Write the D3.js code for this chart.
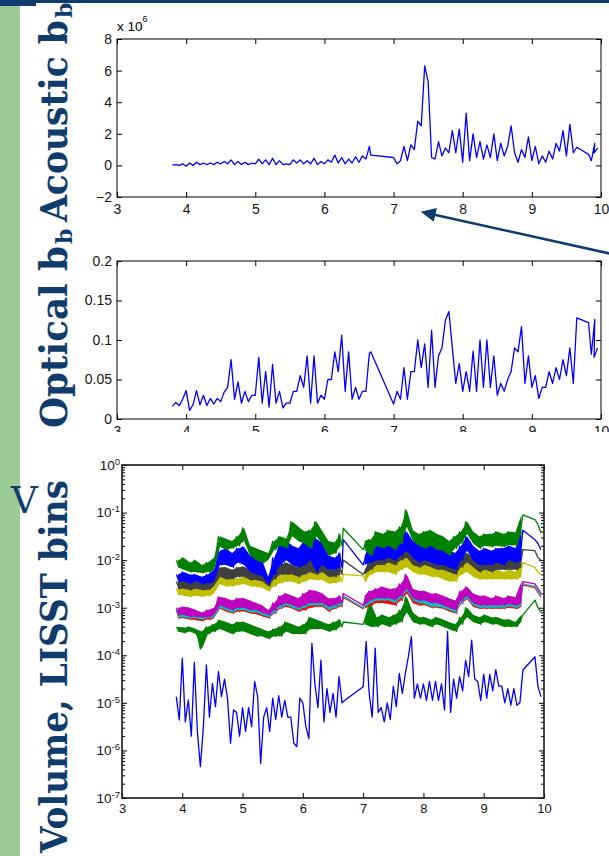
<!DOCTYPE html>
<html>
<head>
<meta charset="utf-8">
<script src="https://cdnjs.cloudflare.com/ajax/libs/d3/7.8.5/d3.min.js"></script>
<style>
body { margin: 0; background: #fff; }
svg { display: block; }
.axis text { font-family: "Liberation Sans", Arial, sans-serif; fill: #151515; }
</style>
</head>
<body>
<div id="viz"></div>
<script>
// ---- data ----
// each series is stored as two readings per x step (a = first, b = second),
// that keeps the noisy look of the traces. a == b means a single point.

var xTicks = [3, 4, 5, 6, 7, 8, 9, 10];

var xsTop = [3.8, 3.9, 4.0, 4.1, 4.2, 4.3, 4.4, 4.5, 4.6, 4.7,
  4.8, 4.9, 5.0, 5.1, 5.2, 5.3, 5.4, 5.5, 5.6, 5.7,
  5.8, 5.9, 6.0, 6.1, 6.2, 6.3, 6.4, 6.5, 6.6, 6.67,
  7.0, 7.1, 7.2, 7.3, 7.4, 7.5, 7.6, 7.7, 7.8, 7.9,
  8.0, 8.1, 8.2, 8.3, 8.4, 8.5, 8.6, 8.7, 8.8, 8.9,
  9.0, 9.1, 9.2, 9.3, 9.4, 9.5, 9.6, 9.82, 9.86, 9.9];

// acoustic bb, in units of 10^6
var acousticTicks = [-2, 0, 2, 4, 6, 8];
var acousticA = [0.02, 0.0, -0.05, 0.0, 0.05, 0.05, 0.05, 0.1, 0.1, 0.05,
  0.05, 0.05, 0.1, 0.1, 0.05, 0.05, 0.05, 0.05, 0.15, 0.1,
  0.1, 0.05, 0.1, 0.2, 0.15, 0.1, 0.15, 0.2, 0.4, 0.65,
  0.5, 0.3, 0.3, 1.0, 2.5, 5.3, 0.4, 0.6, 0.8, 0.8,
  0.2, 0.3, 0.5, 0.4, 0.5, 0.3, 0.6, 2.5, 0.2, 0.5,
  0.3, 0.1, 0.2, 0.4, 0.9, 0.6, 0.8, 0.7, 0.3, 0.8];
var acousticB = [0.05, 0.1, 0.15, 0.2, 0.15, 0.15, 0.2, 0.25, 0.35, 0.25,
  0.2, 0.15, 0.4, 0.35, 0.45, 0.3, 0.1, 0.35, 0.35, 0.3,
  0.45, 0.25, 0.35, 0.65, 0.5, 0.4, 0.55, 0.6, 1.2, 0.65,
  0.1, 1.2, 1.3, 2.8, 6.3, 0.5, 1.5, 1.1, 2.2, 2.3,
  3.3, 2.0, 1.5, 1.3, 2.0, 1.4, 1.2, 0.8, 1.0, 1.8,
  1.2, 0.6, 0.9, 1.4, 2.2, 2.6, 1.15, 0.7, 1.4, 1.1];

// optical bb
var opticalTicks = [0, 0.05, 0.1, 0.15, 0.2];
var opticalTickLabels = ["0", "0.05", "0.1", "0.15", "0.2"];
var opticalA = [0.016, 0.017, 0.036, 0.018, 0.018, 0.017, 0.019, 0.022, 0.04, 0.025,
  0.02, 0.022, 0.03, 0.02, 0.015, 0.02, 0.014, 0.02, 0.035, 0.04,
  0.02, 0.02, 0.025, 0.05, 0.06, 0.035, 0.025, 0.025, 0.035, 0.085,
  0.019, 0.025, 0.025, 0.06, 0.065, 0.04, 0.04, 0.09, 0.136, 0.045,
  0.035, 0.035, 0.035, 0.04, 0.04, 0.03, 0.035, 0.06, 0.085, 0.045,
  0.04, 0.026, 0.04, 0.045, 0.05, 0.055, 0.045, 0.122, 0.082, 0.078];
var opticalB = [0.021, 0.025, 0.011, 0.036, 0.03, 0.026, 0.026, 0.034, 0.075, 0.047,
  0.035, 0.03, 0.078, 0.06, 0.069, 0.035, 0.02, 0.035, 0.055, 0.08,
  0.08, 0.03, 0.05, 0.085, 0.106, 0.085, 0.04, 0.035, 0.083, 0.085,
  0.035, 0.065, 0.06, 0.1, 0.095, 0.112, 0.08, 0.125, 0.09, 0.07,
  0.06, 0.086, 0.1, 0.1, 0.08, 0.045, 0.05, 0.09, 0.117, 0.08,
  0.055, 0.04, 0.06, 0.065, 0.075, 0.09, 0.128, 0.122, 0.126, 0.09];

// LISST volume bins, values are log10 of the volume
var logTicks = [-7, -6, -5, -4, -3, -2, -1, 0];
var xsLisst = [3.9, 4.0, 4.1, 4.2, 4.3, 4.4, 4.5, 4.6, 4.7, 4.8,
  4.9, 5.0, 5.1, 5.2, 5.3, 5.4, 5.5, 5.6, 5.7, 5.8,
  5.9, 6.0, 6.1, 6.2, 6.3, 6.4, 6.5, 6.6, 6.67, 7.0,
  7.1, 7.2, 7.3, 7.4, 7.5, 7.6, 7.7, 7.8, 7.9, 8.0,
  8.1, 8.2, 8.3, 8.4, 8.5, 8.6, 8.7, 8.8, 8.9, 9.0,
  9.1, 9.2, 9.3, 9.4, 9.5, 9.6, 9.85, 9.9];

var lowBlueA = [-4.87, -4.06, -4.94, -4.15, -6.34, -4.2, -4.59, -4.34, -4.5, -5.85,
  -5.2, -5.1, -5.1, -4.55, -6.27, -5.1, -4.9, -4.85, -4.95, -5.3,
  -5.92, -5.0, -5.75, -4.6, -4.1, -4.7, -4.8, -4.45, -4.97, -4.66,
  -4.8, -3.85, -5.1, -5.0, -4.65, -4.38, -4.38, -3.61, -4.6, -4.6,
  -4.55, -4.55, -4.6, -3.5, -4.5, -4.45, -4.1, -3.68, -4.55, -4.4,
  -4.4, -4.3, -4.65, -4.7, -4.7, -5.0, -4.03, -4.66];
var lowBlueB = [-5.36, -5.4, -5.7, -5.6, -5.5, -5.3, -5.08, -4.87, -4.9, -5.15,
  -5.7, -5.6, -5.5, -4.87, -5.3, -5.6, -5.35, -5.3, -5.3, -5.85,
  -4.9, -5.5, -3.75, -5.1, -5.4, -5.2, -5.3, -5.0, -4.97, -3.71,
  -5.3, -5.2, -5.4, -5.35, -5.08, -4.8, -4.03, -4.9, -4.9, -4.95,
  -4.95, -4.95, -5.15, -5.2, -4.9, -4.75, -4.45, -4.5, -4.95, -4.9,
  -4.75, -4.65, -5.0, -5.05, -5.05, -4.31, -4.03, -4.87];

var lowGreenA = [-3.4, -3.42, -3.4, -3.45, -3.87, -3.4, -3.35, -3.26, -3.3, -3.35,
  -3.3, -3.3, -3.35, -3.4, -3.45, -3.5, -3.45, -3.4, -3.3, -3.35,
  -3.4, -3.35, -3.2, -3.25, -3.3, -3.35, -3.3, -3.25, -3.3, -3.35,
  -2.9, -3.2, -3.15, -3.2, -3.15, -3.05, -2.77, -3.1, -3.2, -3.2,
  -3.25, -3.2, -3.25, -3.3, -3.35, -3.2, -3.0, -3.15, -3.2, -3.15,
  -3.2, -3.2, -3.25, -3.25, -3.3, -3.3, -2.84, -3.0];
var lowGreenB = [-3.5, -3.53, -3.5, -3.55, -3.5, -3.55, -3.5, -3.45, -3.5, -3.55,
  -3.5, -3.5, -3.55, -3.6, -3.6, -3.65, -3.6, -3.6, -3.5, -3.55,
  -3.55, -3.55, -3.45, -3.45, -3.45, -3.5, -3.47, -3.4, -3.3, -3.2,
  -3.4, -3.4, -3.35, -3.4, -3.35, -3.3, -3.1, -3.3, -3.35, -3.35,
  -3.4, -3.35, -3.4, -3.45, -3.5, -3.35, -3.2, -3.3, -3.35, -3.3,
  -3.35, -3.35, -3.4, -3.4, -3.4, -3.15, -2.84, -3.1];

var redA = [-3.05, -3.05, -3.08, -3.1, -3.15, -3.1, -3.22, -2.85, -2.88, -2.92,
  -2.88, -2.88, -2.92, -2.98, -3.02, -3.1, -2.98, -2.82, -2.78, -2.82,
  -2.88, -2.78, -2.72, -2.75, -2.78, -2.88, -2.88, -2.82, -2.78, -3.02,
  -2.72, -2.68, -2.66, -2.68, -2.7, -2.6, -2.38, -2.68, -2.72, -2.75,
  -2.8, -2.8, -2.85, -2.88, -2.92, -2.72, -2.62, -2.78, -2.82, -2.82,
  -2.88, -2.82, -2.88, -2.82, -2.85, -2.98, -2.58, -2.68];
var redB = [-3.22, -3.22, -3.25, -3.26, -3.28, -3.25, -3.08, -3.02, -3.08, -3.12,
  -3.08, -3.08, -3.12, -3.14, -3.18, -3.22, -3.12, -3.02, -2.98, -3.02,
  -3.08, -3.05, -3.0, -2.98, -2.98, -3.08, -3.02, -2.98, -2.78, -2.82,
  -2.95, -2.9, -2.9, -2.92, -2.95, -2.85, -2.7, -2.9, -2.95, -2.95,
  -3.0, -3.0, -3.02, -3.08, -3.12, -2.92, -2.82, -2.98, -3.02, -3.02,
  -3.02, -3.02, -3.02, -3.0, -3.02, -2.52, -2.58, -2.78];

var cyanA = [-3.05, -3.02, -3.05, -3.08, -3.12, -3.08, -3.2, -2.82, -2.85, -2.9,
  -2.85, -2.85, -2.9, -2.95, -3.0, -3.08, -2.95, -2.8, -2.75, -2.8,
  -2.85, -2.75, -2.7, -2.72, -2.75, -2.85, -2.85, -2.8, -2.75, -3.0,
  -2.7, -2.65, -2.62, -2.65, -2.65, -2.55, -2.35, -2.65, -2.7, -2.72,
  -2.78, -2.78, -2.82, -2.85, -2.9, -2.7, -2.6, -2.75, -2.8, -2.8,
  -2.85, -2.8, -2.85, -2.8, -2.83, -2.95, -2.55, -2.65];
var cyanB = [-3.2, -3.2, -3.22, -3.22, -3.25, -3.22, -3.05, -3.0, -3.05, -3.1,
  -3.05, -3.05, -3.1, -3.1, -3.15, -3.2, -3.1, -3.0, -2.95, -3.0,
  -3.05, -3.0, -2.95, -2.95, -2.95, -3.05, -3.0, -2.95, -2.75, -2.8,
  -2.9, -2.85, -2.85, -2.85, -2.9, -2.8, -2.65, -2.85, -2.9, -2.92,
  -2.98, -2.98, -3.0, -3.05, -3.1, -2.9, -2.8, -2.95, -3.0, -3.0,
  -3.0, -3.0, -3.0, -2.97, -3.0, -2.5, -2.55, -2.75];

var magentaA = [-3.0, -2.98, -3.0, -3.05, -3.1, -3.05, -3.15, -2.77, -2.8, -2.85,
  -2.8, -2.8, -2.85, -2.9, -2.95, -3.05, -2.9, -2.75, -2.7, -2.75,
  -2.8, -2.7, -2.63, -2.65, -2.7, -2.8, -2.8, -2.75, -2.7, -2.95,
  -2.65, -2.6, -2.56, -2.6, -2.6, -2.5, -2.3, -2.6, -2.65, -2.65,
  -2.7, -2.7, -2.75, -2.8, -2.85, -2.65, -2.56, -2.7, -2.75, -2.75,
  -2.8, -2.75, -2.8, -2.75, -2.78, -2.9, -2.5, -2.6];
var magentaB = [-3.15, -3.15, -3.19, -3.19, -3.2, -3.2, -3.0, -2.95, -3.0, -3.05,
  -3.0, -3.0, -3.05, -3.05, -3.1, -3.15, -3.05, -2.95, -2.9, -2.95,
  -3.0, -2.95, -2.9, -2.9, -2.9, -2.98, -2.95, -2.9, -2.7, -2.75,
  -2.84, -2.8, -2.8, -2.8, -2.84, -2.75, -2.6, -2.8, -2.85, -2.85,
  -2.9, -2.9, -2.95, -3.0, -3.05, -2.85, -2.75, -2.9, -2.95, -2.95,
  -2.95, -2.95, -2.95, -2.92, -2.95, -2.45, -2.5, -2.7];

var oliveA = [-2.6, -2.56, -2.6, -2.6, -2.62, -2.6, -2.7, -2.35, -2.38, -2.4,
  -2.38, -2.35, -2.4, -2.42, -2.45, -2.55, -2.4, -2.3, -2.28, -2.3,
  -2.32, -2.25, -2.2, -2.22, -2.25, -2.35, -2.35, -2.3, -2.3, -2.33,
  -2.1, -2.05, -2.0, -2.05, -2.05, -2.0, -1.9, -2.05, -2.1, -2.1,
  -2.15, -2.15, -2.2, -2.2, -2.25, -2.1, -2.05, -2.15, -2.2, -2.2,
  -2.25, -2.2, -2.25, -2.2, -2.25, -2.35, -2.15, -2.25];
var oliveB = [-2.72, -2.75, -2.77, -2.75, -2.77, -2.75, -2.55, -2.5, -2.55, -2.55,
  -2.52, -2.5, -2.55, -2.56, -2.58, -2.65, -2.55, -2.48, -2.45, -2.45,
  -2.5, -2.45, -2.4, -2.42, -2.42, -2.49, -2.48, -2.45, -2.3, -2.45,
  -2.3, -2.25, -2.25, -2.25, -2.3, -2.2, -2.15, -2.25, -2.3, -2.3,
  -2.35, -2.35, -2.4, -2.45, -2.45, -2.3, -2.25, -2.35, -2.4, -2.4,
  -2.4, -2.4, -2.4, -2.4, -2.4, -2.05, -2.15, -2.3];

var grayA = [-2.45, -2.42, -2.45, -2.45, -2.5, -2.45, -2.55, -2.15, -2.15, -2.2,
  -2.15, -2.14, -2.2, -2.25, -2.3, -2.42, -2.25, -2.1, -2.05, -2.1,
  -2.15, -2.05, -2.0, -2.0, -2.05, -2.2, -2.2, -2.1, -2.0, -2.3,
  -2.0, -1.9, -1.85, -1.85, -1.9, -1.8, -1.7, -1.85, -1.9, -1.9,
  -1.95, -1.95, -2.0, -2.05, -2.1, -1.95, -1.85, -1.95, -2.05, -2.0,
  -2.05, -2.0, -2.05, -2.0, -2.0, -2.15, -1.8, -1.95];
var grayB = [-2.6, -2.6, -2.63, -2.6, -2.63, -2.62, -2.4, -2.35, -2.4, -2.4,
  -2.35, -2.35, -2.42, -2.42, -2.45, -2.55, -2.4, -2.3, -2.3, -2.3,
  -2.35, -2.3, -2.25, -2.3, -2.25, -2.35, -2.35, -2.3, -2.0, -2.2,
  -2.2, -2.1, -2.1, -2.05, -2.1, -2.0, -1.95, -2.1, -2.15, -2.1,
  -2.15, -2.2, -2.2, -2.25, -2.3, -2.15, -2.05, -2.15, -2.25, -2.2,
  -2.25, -2.2, -2.2, -2.2, -2.2, -1.78, -1.8, -2.0];

var blueA = [-2.3, -2.25, -2.3, -2.3, -2.35, -2.3, -2.45, -1.8, -1.75, -1.85,
  -1.75, -1.72, -1.9, -1.95, -2.0, -2.35, -1.95, -1.65, -1.58, -1.7,
  -1.75, -1.6, -1.5, -1.55, -1.65, -1.9, -1.95, -1.85, -1.57, -2.1,
  -1.7, -1.65, -1.6, -1.6, -1.65, -1.5, -1.4, -1.6, -1.65, -1.6,
  -1.65, -1.7, -1.75, -1.8, -1.85, -1.7, -1.5, -1.7, -1.8, -1.75,
  -1.8, -1.75, -1.75, -1.7, -1.75, -2.0, -1.57, -1.65];
var blueB = [-2.45, -2.45, -2.49, -2.45, -2.5, -2.48, -2.2, -2.1, -2.1, -2.15,
  -2.05, -2.1, -2.25, -2.3, -2.33, -2.5, -2.3, -2.1, -2.0, -2.1,
  -2.15, -2.1, -2.0, -2.25, -2.1, -2.2, -2.2, -2.15, -1.57, -1.9,
  -2.05, -2.0, -2.0, -1.95, -2.0, -1.9, -1.8, -1.95, -2.05, -2.0,
  -2.05, -2.1, -2.1, -2.15, -2.2, -2.0, -1.8, -2.0, -2.1, -2.1,
  -2.1, -2.05, -2.1, -2.0, -2.05, -1.37, -1.57, -1.78];

var topGreenA = [-2.0, -1.95, -2.05, -2.0, -2.1, -2.05, -2.2, -1.5, -1.55, -1.6,
  -1.5, -1.32, -1.7, -1.75, -1.8, -2.0, -1.6, -1.5, -1.55, -1.19,
  -1.3, -1.4, -1.37, -1.19, -1.4, -1.6, -1.63, -1.45, -1.33, -1.78,
  -1.57, -1.4, -1.45, -1.37, -1.4, -1.3, -0.94, -1.37, -1.45, -1.4,
  -1.37, -1.45, -1.5, -1.6, -1.5, -1.4, -1.19, -1.4, -1.5, -1.45,
  -1.45, -1.4, -1.45, -1.4, -1.42, -1.45, -1.15, -1.25];
var topGreenB = [-2.15, -2.2, -2.25, -2.25, -2.27, -2.25, -1.95, -1.72, -1.78, -1.75,
  -1.7, -1.6, -1.9, -2.0, -2.05, -1.85, -1.78, -1.7, -1.75, -1.5,
  -1.6, -1.65, -1.75, -1.5, -1.68, -1.9, -1.86, -1.7, -1.33, -1.6,
  -1.9, -1.7, -1.75, -1.7, -1.78, -1.65, -1.3, -1.6, -1.7, -1.75,
  -1.7, -1.78, -1.8, -1.9, -1.75, -1.65, -1.45, -1.65, -1.75, -1.7,
  -1.72, -1.7, -1.72, -1.68, -1.7, -1.05, -1.15, -1.43];

// plotting order as in the original (matlab colour order)
var lisstSeries = [
  {a: lowBlueA, b: lowBlueB, color: "#0000ff", fill: 0},
  {a: lowGreenA, b: lowGreenB, color: "#008000", fill: 1},
  {a: redA, b: redB, color: "#ff0000", fill: 1},
  {a: cyanA, b: cyanB, color: "#00bfbf", fill: 1},
  {a: magentaA, b: magentaB, color: "#bf00bf", fill: 1},
  {a: oliveA, b: oliveB, color: "#bfbf00", fill: 1},
  {a: grayA, b: grayB, color: "#404040", fill: 1},
  {a: blueA, b: blueB, color: "#0000ff", fill: 1},
  {a: topGreenA, b: topGreenB, color: "#008000", fill: 1}
];

var width = 609,
    height = 856;
var navy = "#103c6c";

var svg = d3.select("#viz").append("svg")
    .attr("width", width)
    .attr("height", height);

// slide frame: header bar and green side strip
svg.append("rect").attr("x", 0).attr("y", 0).attr("width", width).attr("height", 3).attr("fill", navy);
svg.append("rect").attr("x", 0).attr("y", 0).attr("width", 36).attr("height", 6).attr("fill", navy);
svg.append("rect").attr("x", 0).attr("y", 6).attr("width", 20).attr("height", height - 6).attr("fill", "#9ccb97");

// two readings per step -> zig-zag trace
function zigzag(xs, a, b, half) {
  var pts = [];
  xs.forEach(function(x, i) {
    pts.push([x, a[i]]);
    if (a[i] !== b[i]) pts.push([x + half, b[i]]);
  });
  return pts;
}

// envelope of the two readings; broken wherever the record has a gap
function band(xs, a, b, half) {
  var out = [];
  xs.forEach(function(x, i) {
    if (a[i] === b[i]) { out.push(null); return; }
    if (i > 0 && x - xs[i - 1] > 0.11) out.push(null);
    out.push([x + half / 2, Math.min(a[i], b[i]), Math.max(a[i], b[i])]);
  });
  return out;
}

function frame(g, x, y, w, h, yVals, yFmt, fs, xPad) {
  var tick = 5;
  g.append("g").attr("class", "axis")
      .attr("transform", "translate(0," + h + ")")
      .call(d3.axisBottom(x).tickValues(xTicks).tickFormat(d3.format("d"))
        .tickSize(-tick).tickSizeOuter(0).tickPadding(xPad))
      .attr("font-size", fs);
  g.append("g").attr("class", "axis")
      .call(d3.axisTop(x).tickValues(xTicks).tickFormat("").tickSize(-tick).tickSizeOuter(0));
  if (yVals) {
    g.append("g").attr("class", "axis ylab")
        .call(d3.axisLeft(y).tickValues(yVals).tickFormat(yFmt).tickSize(-tick).tickSizeOuter(0).tickPadding(5))
        .attr("font-size", fs);
    g.append("g").attr("class", "axis")
        .attr("transform", "translate(" + w + ",0)")
        .call(d3.axisRight(y).tickValues(yVals).tickFormat("").tickSize(-tick).tickSizeOuter(0));
  }
  g.selectAll(".domain").remove();
}

function trace(g, x, y, xs, a, b, color, fillOp, sw) {
  if (fillOp > 0) {
    g.append("path")
        .datum(band(xs, a, b, 0.05))
        .attr("fill", color).attr("fill-opacity", fillOp).attr("stroke", "none")
        .attr("d", d3.area()
          .defined(function(d) { return d; })
          .x(function(d) { return x(d[0]); })
          .y0(function(d) { return y(d[1]); })
          .y1(function(d) { return y(d[2]); }));
  }
  g.append("path")
      .datum(zigzag(xs, a, b, 0.05))
      .attr("fill", "none").attr("stroke", color).attr("stroke-width", sw)
      .attr("stroke-linejoin", "round")
      .attr("d", d3.line().x(function(d) { return x(d[0]); }).y(function(d) { return y(d[1]); }));
}

// ---- panel 1: acoustic ----
var w1 = 484, h1 = 158;
var p1 = svg.append("g").attr("transform", "translate(117,39)");
var x1 = d3.scaleLinear().domain([3, 10]).range([0, w1]);
var y1 = d3.scaleLinear().domain([-2, 8]).range([h1, 0]);

frame(p1, x1, y1, w1, h1, acousticTicks, d3.format("d"), 14, 7);
trace(p1, x1, y1, xsTop, acousticA, acousticB, "#0000ff", 0, 1.3);
p1.append("rect").attr("width", w1).attr("height", h1)
    .attr("fill", "none").attr("stroke", "#000").attr("stroke-width", 1);

var mult = p1.append("text").attr("class", "axis")
    .attr("x", 0).attr("y", -8)
    .attr("font-size", 13.5)
    .attr("font-family", "Liberation Sans, Arial, sans-serif");
mult.append("tspan").text("x 10");
mult.append("tspan").attr("dy", -9).attr("font-size", 9).text("6");

// ---- panel 2: optical ----
var w2 = 484, h2 = 158;
var clip = svg.append("defs").append("clipPath").attr("id", "cut2");
clip.append("rect").attr("x", 0).attr("y", 0).attr("width", width).attr("height", 432);
var p2 = svg.append("g").attr("clip-path", "url(#cut2)")
  .append("g").attr("transform", "translate(117,261)");
var x2 = d3.scaleLinear().domain([3, 10]).range([0, w2]);
var y2 = d3.scaleLinear().domain([0, 0.2]).range([h2, 0]);

frame(p2, x2, y2, w2, h2, opticalTicks, function(d, i) { return opticalTickLabels[i]; }, 14, 7);
trace(p2, x2, y2, xsTop, opticalA, opticalB, "#0000ff", 0, 1.3);
p2.append("rect").attr("width", w2).attr("height", h2)
    .attr("fill", "none").attr("stroke", "#000").attr("stroke-width", 1);

// ---- panel 3: LISST volume, log axis ----
var w3 = 422, h3 = 333;
var p3 = svg.append("g").attr("transform", "translate(122,465)");
var x3 = d3.scaleLinear().domain([3, 10]).range([0, w3]);
var y3 = d3.scaleLog().domain([1e-7, 1]).range([h3, 0]);
var y3e = function(e) { return y3(Math.pow(10, e)); };

frame(p3, x3, y3, w3, h3, null, null, 13, 6);

var majors = logTicks.map(function(e) { return Math.pow(10, e); });
var minors = y3.ticks().filter(function(v) { return majors.indexOf(v) < 0; });

var gl = p3.append("g").attr("class", "axis")
    .call(d3.axisLeft(y3).tickValues(majors).tickFormat("").tickSize(-5).tickSizeOuter(0).tickPadding(2))
    .attr("font-size", 13.5);
gl.selectAll(".tick text").each(function(d) {
  var t = d3.select(this);
  t.append("tspan").text("10");
  t.append("tspan").attr("dy", -5).attr("font-size", 9.5).text(Math.round(Math.log10(d)));
});
p3.append("g").attr("class", "axis")
    .call(d3.axisLeft(y3).tickValues(minors).tickFormat("").tickSize(-3).tickSizeOuter(0));
p3.append("g").attr("class", "axis")
    .attr("transform", "translate(" + w3 + ",0)")
    .call(d3.axisRight(y3).tickValues(majors).tickFormat("").tickSize(-5).tickSizeOuter(0));
p3.append("g").attr("class", "axis")
    .attr("transform", "translate(" + w3 + ",0)")
    .call(d3.axisRight(y3).tickValues(minors).tickFormat("").tickSize(-3).tickSizeOuter(0));
p3.selectAll(".domain").remove();

lisstSeries.forEach(function(s) {
  trace(p3, x3, y3e, xsLisst, s.a, s.b, s.color, s.fill, 1.3);
});

p3.append("rect").attr("width", w3).attr("height", h3)
    .attr("fill", "none").attr("stroke", "#1a1a1a").attr("stroke-width", 1.6);

// ---- side titles (rotated, slide text) ----
function sideTitle(txt, yStart, len, sub) {
  svg.append("text")
      .attr("transform", "translate(67," + yStart + ") rotate(-90)")
      .attr("font-family", "DejaVu Serif, serif")
      .attr("font-weight", "bold")
      .attr("font-size", 38)
      .attr("fill", navy)
      .attr("textLength", len)
      .attr("lengthAdjust", "spacingAndGlyphs")
      .text(txt);
  if (sub) {
    svg.append("text")
        .attr("transform", "translate(72," + (yStart - len - 2) + ") rotate(-90)")
        .attr("font-family", "DejaVu Serif, serif")
        .attr("font-weight", "bold")
        .attr("font-size", 22)
        .attr("fill", navy)
        .text(sub);
  }
}
sideTitle("Acoustic b", 222, 202, "b");
sideTitle("Optical b", 428, 182, "b");
sideTitle("Volume, LISST bins", 853, 373, null);

svg.append("text")
    .attr("x", 11).attr("y", 513)
    .attr("font-family", "DejaVu Serif, serif")
    .attr("font-size", 37)
    .attr("fill", navy)
    .text("V");

// ---- arrow pointing at the acoustic peak ----
var from = [614, 254.5], tip = [420.7, 211.7];
var dx = tip[0] - from[0], dy = tip[1] - from[1], len = Math.sqrt(dx * dx + dy * dy);
var ux = dx / len, uy = dy / len;
var base = [tip[0] - 15 * ux, tip[1] - 15 * uy];
svg.append("line")
    .attr("x1", from[0]).attr("y1", from[1])
    .attr("x2", base[0] + 2 * ux).attr("y2", base[1] + 2 * uy)
    .attr("stroke", navy).attr("stroke-width", 2.5);
svg.append("polygon")
    .attr("points", [tip, [base[0] - 7 * uy, base[1] + 7 * ux], [base[0] + 7 * uy, base[1] - 7 * ux]].join(" "))
    .attr("fill", navy);
</script>
</body>
</html>
